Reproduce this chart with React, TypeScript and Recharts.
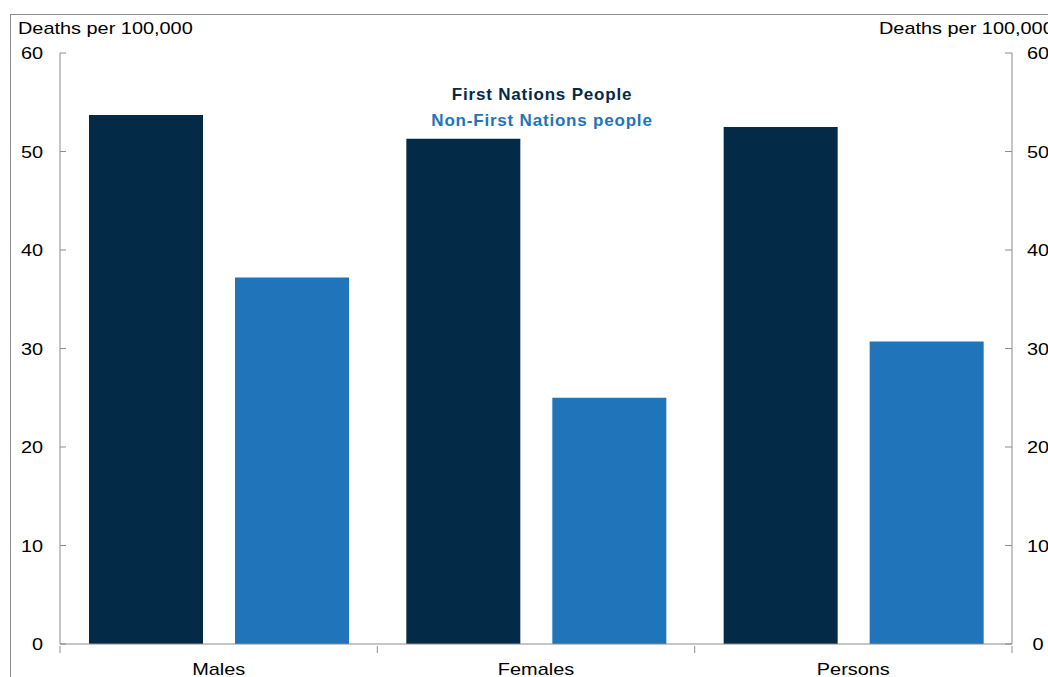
import React from "react";
import { BarChart, Bar, XAxis, YAxis, Legend } from "recharts";

const categories = ["Males", "Females", "Persons"];
const firstNations = [53.7, 51.3, 52.5];
const nonFirstNations = [37.2, 25.0, 30.7];
const yTicks = [0, 10, 20, 30, 40, 50, 60];
const seriesNames = ["First Nations People", "Non-First Nations people"];
const axisTitle = "Deaths per 100,000";

const colors = ["#032b47", "#1f74ba"];
const font = "'Liberation Sans', Arial, sans-serif";
const axisColor = "#8c8c8c";
const stretch = 1.17;

const data = categories.map((c, i) => ({
  category: c,
  first: firstNations[i],
  non: nonFirstNations[i],
}));

const Txt = ({ x, y, anchor, children }: any) => (
  <text
    transform={`translate(${x},${y}) scale(${stretch},1)`}
    x={0}
    y={0}
    textAnchor={anchor}
    fill="#000"
    style={{ fontFamily: font, fontSize: 17 }}
  >
    {children}
  </text>
);

const LeftTick = (props: any) => {
  const { x, y, payload } = props;
  return (
    <g>
      <line x1={x + 17} x2={x + 23} y1={y} y2={y} stroke={axisColor} />
      <Txt x={x} y={y + 6} anchor="end">{payload.value}</Txt>
    </g>
  );
};

const RightTick = (props: any) => {
  const { x, y, payload } = props;
  return (
    <g>
      <line x1={x - 33} x2={x - 26} y1={y} y2={y} stroke={axisColor} />
      <Txt x={x} y={y + 6} anchor="middle">{payload.value}</Txt>
    </g>
  );
};

const band = 952 / categories.length;

const BottomTick = (props: any) => {
  const { x, y, payload, index } = props;
  return (
    <g>
      <line x1={x - band / 2} x2={x - band / 2} y1={y} y2={y + 7} stroke={axisColor} />
      {index === categories.length - 1 && (
        <line x1={x + band / 2} x2={x + band / 2} y1={y} y2={y + 7} stroke={axisColor} />
      )}
      <Txt x={x} y={y + 29} anchor="middle">{payload.value}</Txt>
    </g>
  );
};

const LegendContent = () => (
  <div style={{ textAlign: "center", fontFamily: font, fontWeight: "bold", fontSize: 17, lineHeight: "26px", letterSpacing: 0.8 }}>
    {seriesNames.map((n, i) => (
      <div key={n} style={{ color: colors[i] }}>
        {n}
      </div>
    ))}
  </div>
);

const titleStyle: React.CSSProperties = {
  position: "absolute",
  top: 19,
  fontFamily: font,
  fontSize: 17,
  whiteSpace: "nowrap",
  transform: `scaleX(${stretch})`,
  transformOrigin: "left top",
};

export default function App() {
  return (
    <div style={{ position: "absolute", left: 0, top: 0, width: 1048, height: 677, overflow: "hidden", background: "#fff" }}>
      <div
        style={{
          position: "absolute",
          left: 10,
          top: 14,
          width: 1200,
          height: 800,
          borderTop: `1px solid ${axisColor}`,
          borderLeft: `1px solid ${axisColor}`,
        }}
      />
      <div style={{ ...titleStyle, left: 18 }}>{axisTitle}</div>
      <div style={{ ...titleStyle, left: 879 }}>{axisTitle}</div>
      <div style={{ position: "absolute", left: 0, top: 0 }}>
        <BarChart
          width={1048}
          height={677}
          data={data}
          margin={{ top: 53, right: 0, bottom: 0, left: 0 }}
          barGap={32}
          barSize={114}
        >
          <XAxis
            dataKey="category"
            height={33}
            axisLine={{ stroke: axisColor }}
            tickLine={false}
            tickSize={0}
            tick={<BottomTick />}
            interval={0}
          />
          <YAxis
            yAxisId="left"
            orientation="left"
            width={60}
            domain={[0, 60]}
            ticks={yTicks}
            allowDataOverflow
            axisLine={{ stroke: axisColor }}
            tickLine={false}
            tickSize={0}
            tickMargin={17}
            tick={<LeftTick />}
          />
          <YAxis
            yAxisId="right"
            orientation="right"
            width={36}
            domain={[0, 60]}
            ticks={yTicks}
            allowDataOverflow
            axisLine={{ stroke: axisColor }}
            tickLine={false}
            tickSize={0}
            tickMargin={26}
            tick={<RightTick />}
          />
          <Legend
            verticalAlign="middle"
            content={<LegendContent />}
            wrapperStyle={{ top: 82, left: 0, width: 1084 }}
          />
          <Bar yAxisId="left" dataKey="first" name={seriesNames[0]} fill={colors[0]} isAnimationActive={false} />
          <Bar yAxisId="left" dataKey="non" name={seriesNames[1]} fill={colors[1]} isAnimationActive={false} />
          <Bar yAxisId="right" dataKey="first" hide legendType="none" isAnimationActive={false} />
        </BarChart>
      </div>
    </div>
  );
}
